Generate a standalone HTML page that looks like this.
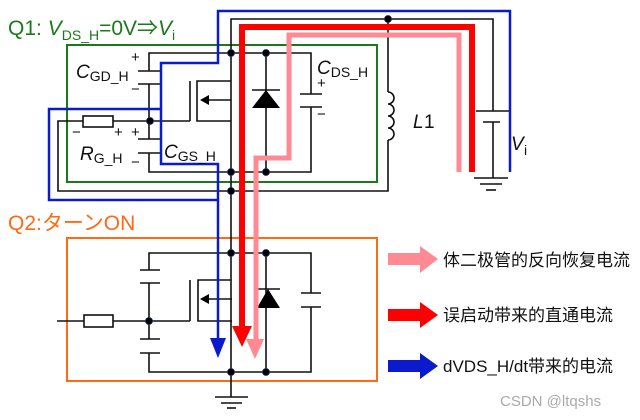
<!DOCTYPE html>
<html><head><meta charset="utf-8"><style>
body{margin:0;background:#fff;}
svg{display:block;font-family:"Liberation Sans","Noto Sans CJK SC",sans-serif;}
</style></head><body>
<svg width="640" height="420" viewBox="0 0 640 420" xmlns="http://www.w3.org/2000/svg">
<rect x="67" y="45" width="310" height="137" fill="none" stroke="#1a7a1a" stroke-width="2"/>
<rect x="67" y="238" width="310" height="143" fill="none" stroke="#ff6a13" stroke-width="2"/>

<g stroke="#111" stroke-width="1.6" fill="none">
<polyline points="231,372 231,19 493,19 493,111"/>
<line x1="476" y1="111" x2="510" y2="111"/>
<line x1="483" y1="122" x2="500" y2="122"/>
<line x1="493" y1="122" x2="493" y2="178"/>
<line x1="474" y1="178" x2="508" y2="178"/>
<line x1="480" y1="184" x2="502" y2="184"/>
<line x1="486" y1="190" x2="496" y2="190"/>
<polyline points="388,19 388,92"/>
<path d="M388,92 a6,6 0 1 1 0,12 a6,6 0 1 1 0,12 a6,6 0 1 1 0,12 a6,6 0 1 1 0,12"/>
<polyline points="388,140 388,191 58,191 58,121 190,121"/>
<polyline points="149,71 149,53 311,53 311,94"/>
<line x1="300" y1="94" x2="322" y2="94"/>
<line x1="300" y1="107" x2="322" y2="107"/>
<polyline points="311,107 311,172 149,172 149,153"/>
<line x1="266" y1="53" x2="266" y2="172"/>
<line x1="252" y1="90" x2="280" y2="90"/>
<line x1="138" y1="71" x2="160" y2="71"/>
<line x1="138" y1="84" x2="160" y2="84"/>
<line x1="149" y1="84" x2="149" y2="139"/>
<line x1="138" y1="139" x2="160" y2="139"/>
<line x1="138" y1="153" x2="160" y2="153"/>
<polyline points="231,81 197,81 197,121 231,121"/>
<line x1="190" y1="81" x2="190" y2="121"/>
<line x1="231" y1="100" x2="206" y2="100"/>
<polyline points="149,270 149,253 311,253 311,293"/>
<line x1="301" y1="293" x2="321" y2="293"/>
<line x1="301" y1="307" x2="321" y2="307"/>
<polyline points="311,307 311,372 149,372 149,353"/>
<line x1="266" y1="253" x2="266" y2="372"/>
<line x1="257" y1="289" x2="280" y2="289"/>
<line x1="140" y1="270" x2="160" y2="270"/>
<line x1="140" y1="283" x2="160" y2="283"/>
<line x1="149" y1="283" x2="149" y2="339"/>
<line x1="140" y1="339" x2="160" y2="339"/>
<line x1="140" y1="353" x2="160" y2="353"/>
<polyline points="231,280 198,280 198,321 232,321"/>
<line x1="190" y1="280" x2="190" y2="321"/>
<line x1="57" y1="321" x2="190" y2="321"/>
<line x1="232" y1="299" x2="206" y2="299"/>
<line x1="231" y1="372" x2="231" y2="397"/>
<line x1="215" y1="397" x2="248" y2="397"/>
<line x1="221" y1="403" x2="242" y2="403"/>
<line x1="227" y1="408" x2="236" y2="408"/>
</g>
<rect x="83" y="116" width="30" height="11" fill="#fff" stroke="#111" stroke-width="1.6"/>
<rect x="84" y="315" width="29" height="12" fill="#fff" stroke="#111" stroke-width="1.6"/>
<polygon points="266,90 252,108 280,108" fill="#000"/>
<polygon points="268,289 257,308 280,308" fill="#000"/>
<polygon points="200,100 209,95 209,105" fill="#000"/>
<polygon points="200,299 209,294 209,304" fill="#000"/>
<g fill="#000" stroke="#1a2a6a" stroke-width="0.8">
<circle cx="231" cy="53" r="3.5"/><circle cx="266" cy="53" r="3.5"/>
<circle cx="231" cy="172" r="3.5"/><circle cx="266" cy="172" r="3.5"/>
<circle cx="231" cy="191" r="3.5"/><circle cx="388" cy="19" r="3.5"/>
<circle cx="150" cy="121" r="3.5"/>
<circle cx="231" cy="253" r="3.5"/><circle cx="266" cy="253" r="3.5"/>
<circle cx="231" cy="372" r="3.5"/><circle cx="266" cy="372" r="3.5"/>
<circle cx="149" cy="321" r="3.5"/>
</g>
<polyline points="459,172 459,35 289,35 289,158 256,158 256,340" fill="none" stroke="#ff8a94" stroke-width="5"/>
<polygon points="246,339 264,339 255,359" fill="#ff8a94"/>
<polyline points="472,172 472,27 242,27 242,327" fill="none" stroke="#ff0000" stroke-width="6"/>
<polygon points="232,326 252,326 242,347" fill="#ff0000"/>
<polyline points="510,172 510,11 218,11 218,63 161,63 161,164 218,164 218,340" fill="none" stroke="#0a1acc" stroke-width="2.5"/>
<polyline points="161,109 49,109 49,200 218,200" fill="none" stroke="#0a1acc" stroke-width="2.5"/>
<polygon points="210,338 226,338 218,358" fill="#0a1acc"/>

<text x="8" y="35" font-size="21" fill="#1a7a1a">Q1: <tspan font-style="italic">V</tspan><tspan font-size="14" dy="5">DS_H</tspan><tspan dy="-5">=0V⇒</tspan><tspan font-style="italic">V</tspan><tspan font-size="14" dy="5">i</tspan></text>
<text x="8" y="230" font-size="21" fill="#ff6a13">Q2:ターンON</text>
<g font-size="19" fill="#111">
<text x="76" y="78"><tspan font-style="italic">C</tspan><tspan font-size="14" dy="3">GD_H</tspan></text>
<text x="80" y="160"><tspan font-style="italic">R</tspan><tspan font-size="14" dy="3">G_H</tspan></text>
<text x="164" y="158"><tspan font-style="italic">C</tspan><tspan font-size="14" dy="3">GS_H</tspan></text>
<text x="317" y="74"><tspan font-style="italic">C</tspan><tspan font-size="14" dy="3">DS_H</tspan></text>
<text x="413" y="128" font-style="italic">L</text><text x="424" y="128">1</text>
<text x="511" y="150" font-style="italic">V</text><text x="524" y="155" font-size="14">i</text>
</g>
<g font-size="15" fill="#111">
<text x="131" y="62">+</text><text x="131" y="94">−</text>
<text x="72" y="137">−</text><text x="114" y="137">+</text><text x="131" y="137">+</text>
<text x="131" y="167">−</text>
<text x="317" y="88">+</text><text x="317" y="119">−</text>
</g>
<polygon points="388,253 420,253 420,246 438,259 420,273 420,265 388,265" fill="#ff8a94"/>
<polygon points="388,309 420,309 420,302 438,315 420,328 420,321 388,321" fill="#ff0000"/>
<polygon points="388,360 420,360 420,353 438,366 420,379 420,372 388,372" fill="#0a1acc"/>
<g font-size="17" fill="#111">
<text x="443" y="266">体二极管的反向恢复电流</text>
<text x="443" y="321">误启动带来的直通电流</text>
<text x="443" y="372">dVDS_H/dt带来的电流</text>
</g>
<text x="500" y="406" font-size="15" fill="#aaa">CSDN @ltqshs</text>
</svg>
</body></html>
